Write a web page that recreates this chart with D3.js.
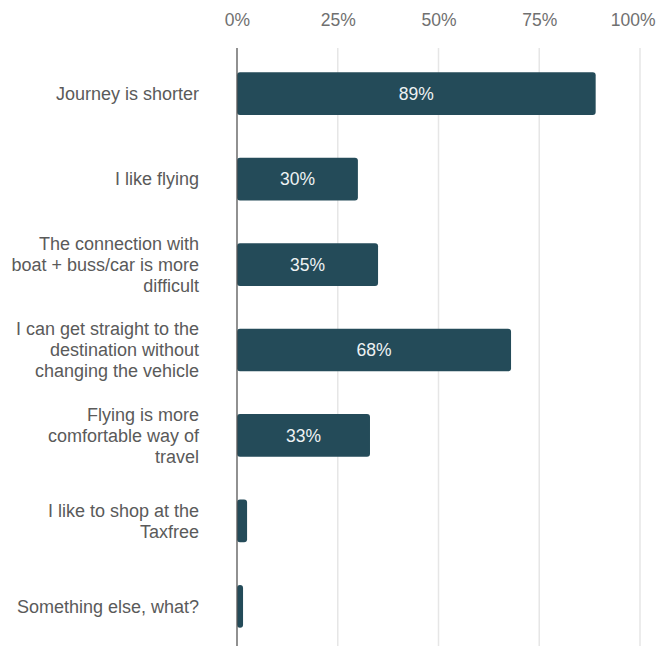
<!DOCTYPE html>
<html>
<head>
<meta charset="utf-8">
<script src="https://cdn.jsdelivr.net/npm/d3@7"></script>
<style>
  html, body { margin: 0; padding: 0; background: #ffffff; }
  svg { display: block; font-family: "Liberation Sans", Arial, Helvetica, sans-serif; }
</style>
</head>
<body>
<svg id="chart" width="659" height="646"></svg>
<script>
// Reasons given for choosing to fly (share of respondents)
const categories = [
  "Journey is shorter",
  "I like flying",
  "The connection with\nboat + buss/car is more\ndifficult",
  "I can get straight to the\ndestination without\nchanging the vehicle",
  "Flying is more\ncomfortable way of\ntravel",
  "I like to shop at the\nTaxfree",
  "Something else, what?"
];
const shares = [0.89, 0.30, 0.35, 0.68, 0.33, 0.025, 0.015];
const tickValues = [0, 0.25, 0.5, 0.75, 1];

const svg = d3.select("#chart");
const W = 659, H = 646;
const rightLimit = 655;

const x = d3.scaleLinear().domain([0, 1]).range([237, 640]);
const y = d3.scaleBand()
  .domain(categories)
  .range([51, 649])
  .paddingInner(0.5)
  .paddingOuter(0.25);

const plotTop = 48;

// vertical gridlines
svg.append("g")
  .selectAll("line")
  .data(tickValues.filter(d => d > 0))
  .join("line")
  .attr("x1", d => x(d)).attr("x2", d => x(d))
  .attr("y1", plotTop).attr("y2", H)
  .attr("stroke", "#e6e6e6")
  .attr("stroke-width", 1.5);

// top axis labels
const axis = svg.append("g")
  .attr("transform", "translate(0,26)")
  .call(d3.axisTop(x).tickValues(tickValues).tickFormat(d3.format(".0%")).tickSize(0).tickPadding(0));
axis.select(".domain").remove();
axis.selectAll("text")
  .attr("fill", "#707070")
  .attr("font-size", 17.5)
  .attr("font-family", "'Liberation Sans', Arial, sans-serif");
// keep the outermost label inside the drawing
axis.selectAll(".tick").each(function (d) {
  const txt = d3.select(this).select("text");
  const w = txt.node().getComputedTextLength();
  const overflow = x(d) + w / 2 - rightLimit;
  if (overflow > 0) txt.attr("x", -overflow);
});

// bars
svg.append("g")
  .selectAll("rect")
  .data(shares)
  .join("rect")
  .attr("x", x(0))
  .attr("y", (d, i) => y(categories[i]))
  .attr("width", d => x(d) - x(0))
  .attr("height", y.bandwidth())
  .attr("rx", 3)
  .attr("fill", "#244b59");

// value labels inside the bars
svg.append("g")
  .selectAll("text")
  .data(shares.map((v, i) => ({ v, i })).filter(d => d.v >= 0.1))
  .join("text")
  .attr("x", d => (x(0) + x(d.v)) / 2)
  .attr("y", d => y(categories[d.i]) + y.bandwidth() / 2)
  .attr("dy", "0.35em")
  .attr("text-anchor", "middle")
  .attr("fill", "#eef2f3")
  .attr("font-size", 17.5)
  .text(d => d3.format(".0%")(d.v));

// baseline axis
svg.append("line")
  .attr("x1", x(0)).attr("x2", x(0))
  .attr("y1", plotTop).attr("y2", H)
  .attr("stroke", "#555555")
  .attr("stroke-width", 1.3);

// category labels
const lineH = 21;
const labels = svg.append("g")
  .selectAll("text")
  .data(categories)
  .join("text")
  .attr("text-anchor", "end")
  .attr("fill", "#5a5a5a")
  .attr("font-size", 18)
  .attr("y", d => y(d) + y.bandwidth() / 2);

labels.each(function (d) {
  const lines = d.split("\n");
  const t = d3.select(this);
  lines.forEach((ln, k) => {
    t.append("tspan")
      .attr("x", 199)
      .attr("y", y(d) + y.bandwidth() / 2 + (k - (lines.length - 1) / 2) * lineH)
      .attr("dy", "0.35em")
      .text(ln);
  });
});
</script>
</body>
</html>
